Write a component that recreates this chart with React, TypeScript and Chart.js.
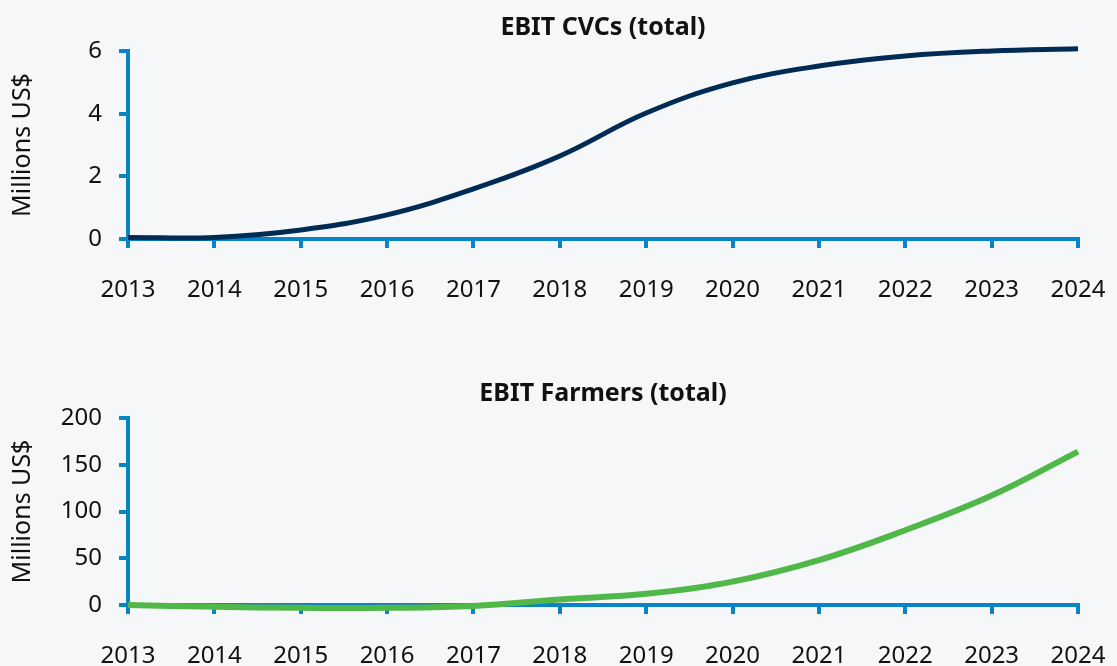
import React, { useEffect, useRef } from "react";
import { Chart, registerables } from "chart.js";

Chart.register(...registerables);

const years = ["2013", "2014", "2015", "2016", "2017", "2018", "2019", "2020", "2021", "2022", "2023", "2024"];
const cvcValues = [0.05, 0.05, 0.29, 0.77, 1.6, 2.65, 4.02, 4.98, 5.52, 5.84, 6.0, 6.07];
const farmerValues = [0, -2, -3, -3, -1, 6, 12, 25, 48, 80, 117, 164];
const cvcTicks = [0, 2, 4, 6];
const farmerTicks = [0, 50, 100, 150, 200];

const BG = "#f6f7f9";
const AXIS = "#0a84c8";
const NAVY = "#002b55";
const GREEN = "#50b848";
const FONT = "'Noto Sans', Lato, sans-serif";

type Opts = {
  title: string;
  values: number[];
  ticks: number[];
  color: string;
  lineWidth: number;
  titlePadTop: number;
  titlePadBottom: number;
  xHeight: number;
};

function makeConfig(o: Opts): any {
  const max = o.ticks[o.ticks.length - 1];
  return {
    type: "line",
    data: {
      labels: years,
      datasets: [
        {
          data: o.values,
          borderColor: o.color,
          borderWidth: o.lineWidth,
          pointRadius: 0,
          tension: 0.4,
          fill: false,
          clip: false,
        },
      ],
    },
    options: {
      animation: false,
      responsive: false,
      maintainAspectRatio: false,
      layout: { padding: { left: 0, right: 39, top: 0, bottom: 0 } },
      plugins: {
        legend: { display: false },
        tooltip: { enabled: false },
        title: {
          display: true,
          text: o.title,
          fullSize: false,
          color: "#111",
          font: { family: FONT, size: 25, weight: "bold" },
          padding: { top: o.titlePadTop, bottom: o.titlePadBottom },
        },
      },
      scales: {
        x: {
          type: "category",
          offset: false,
          grid: {
            display: true,
            drawOnChartArea: false,
            drawTicks: true,
            tickLength: 9,
            color: AXIS,
            lineWidth: 4,
          },
          border: { display: true, color: AXIS, width: 4 },
          ticks: {
            autoSkip: false,
            maxRotation: 0,
            padding: 28,
            color: "#111",
            font: { family: FONT, size: 24 },
          },
          afterFit: (s: any) => {
            s.height = o.xHeight;
            s.paddingLeft = 0;
            s.paddingRight = 0;
          },
        },
        y: {
          min: 0,
          max: max,
          grid: {
            display: true,
            drawOnChartArea: false,
            drawTicks: true,
            tickLength: 9,
            color: AXIS,
            lineWidth: 4,
          },
          border: { display: true, color: AXIS, width: 4 },
          afterBuildTicks: (s: any) => {
            s.ticks = o.ticks.map((v) => ({ value: v }));
          },
          ticks: {
            padding: 17,
            color: "#111",
            font: { family: FONT, size: 24 },
          },
          title: {
            display: true,
            text: "Millions US$",
            color: "#111",
            font: { family: FONT, size: 25 },
            padding: { top: 8, bottom: 0 },
          },
          afterFit: (s: any) => {
            s.width = 128;
            s.paddingTop = 0;
            s.paddingBottom = 0;
          },
        },
      },
    },
  };
}

function LineChart(props: { opts: Opts; height: number }) {
  const ref = useRef<HTMLCanvasElement | null>(null);
  useEffect(() => {
    if (!ref.current) return;
    const chart = new Chart(ref.current, makeConfig(props.opts));
    return () => chart.destroy();
  }, []);
  return (
    <canvas
      ref={ref}
      width={1117}
      height={props.height}
      style={{ display: "block", width: 1117, height: props.height }}
    />
  );
}

export default function App() {
  return (
    <div
      style={{
        position: "fixed",
        left: 0,
        top: 0,
        width: 1117,
        height: 666,
        background: BG,
        overflow: "hidden",
      }}
    >
      <LineChart
        height={333}
        opts={{
          title: "EBIT CVCs (total)",
          values: cvcValues,
          ticks: cvcTicks,
          color: NAVY,
          lineWidth: 5,
          titlePadTop: 13,
          titlePadBottom: 8,
          xHeight: 94,
        }}
      />
      <LineChart
        height={333}
        opts={{
          title: "EBIT Farmers (total)",
          values: farmerValues,
          ticks: farmerTicks,
          color: GREEN,
          lineWidth: 6,
          titlePadTop: 46,
          titlePadBottom: 9,
          xHeight: 61,
        }}
      />
    </div>
  );
}
